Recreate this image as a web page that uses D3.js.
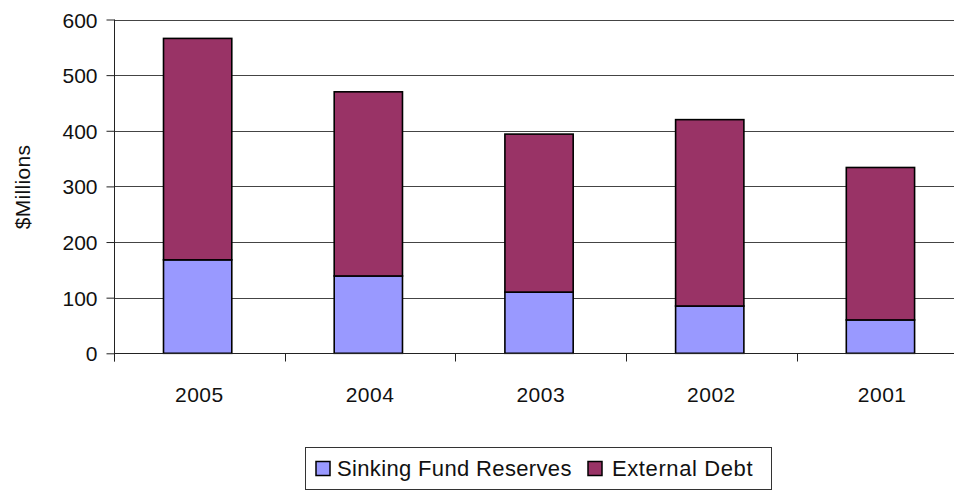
<!DOCTYPE html>
<html>
<head>
<meta charset="utf-8">
<script src="https://cdn.jsdelivr.net/npm/d3@7"></script>
<style>
  html, body { margin: 0; padding: 0; background: #fff; overflow: hidden; }
  svg { display: block; }
  text { font-family: "Liberation Sans", "DejaVu Sans", sans-serif; fill: #111; }
</style>
</head>
<body>
<svg id="chart" width="954" height="491"></svg>
<script>
// Funding data, $ millions
const years = ["2005", "2004", "2003", "2002", "2001"];
const sinkingFund = [168, 139, 110, 85, 60];
const externalDebt = [398, 331, 284, 335, 274];
const yTicks = [0, 100, 200, 300, 400, 500, 600];
const seriesNames = ["Sinking Fund Reserves", "External Debt"];
const seriesColors = ["#9999ff", "#993366"];

const svg = d3.select("#chart");
const plot = { left: 114, right: 967.5, top: 19.5, bottom: 353.3, visibleRight: 954 };
const fontSize = "21px";

const xCat = d3.scaleBand().domain(years).range([plot.left, plot.right]);
const barOffset = 0.29, barWidth = 0.40; // fractions of a category slot
const y = d3.scaleLinear().domain([0, 600]).range([plot.bottom, plot.top]);

// Gridlines
svg.append("g").selectAll("line").data(yTicks.filter(d => d > 0)).join("line")
  .attr("x1", plot.left).attr("x2", plot.visibleRight)
  .attr("y1", d => Math.round(y(d)) + 0.5).attr("y2", d => Math.round(y(d)) + 0.5)
  .attr("stroke", "#444").attr("stroke-width", 1.2);

// Stacked bars
const rows = years.map((yr, i) => ({ year: yr, "Sinking Fund Reserves": sinkingFund[i], "External Debt": externalDebt[i] }));
const stacked = d3.stack().keys(seriesNames)(rows);
svg.append("g").selectAll("g").data(stacked).join("g")
  .attr("fill", (d, i) => seriesColors[i])
  .selectAll("rect").data(d => d).join("rect")
  .attr("x", d => xCat(d.data.year) + xCat.bandwidth() * barOffset)
  .attr("y", d => y(d[1]))
  .attr("width", xCat.bandwidth() * barWidth)
  .attr("height", d => y(d[0]) - y(d[1]))
  .attr("stroke", "#000").attr("stroke-width", 1.6);

// Y axis
const yAxis = d3.axisLeft(y).tickValues(yTicks).tickSize(8).tickPadding(9).tickFormat(d3.format("d"));
const gy = svg.append("g").attr("transform", `translate(${plot.left + 0.5},0)`).call(yAxis);
gy.select(".domain").attr("d", `M0,${plot.top}V${plot.bottom + 8}`).attr("stroke", "#222");
gy.selectAll(".tick line").attr("stroke", "#222");
gy.selectAll("text").attr("font-family", null).style("font-size", fontSize).attr("dy", "0.36em");

// X axis with ticks at category boundaries
const gx = svg.append("g").attr("transform", `translate(0,${Math.round(plot.bottom) + 0.5})`);
gx.append("line").attr("x1", plot.left).attr("x2", plot.visibleRight).attr("stroke", "#222");
gx.selectAll("line.tk").data(years).join("line").attr("class", "tk")
  .attr("x1", d => Math.round(xCat(d)) + 0.5)
  .attr("x2", d => Math.round(xCat(d)) + 0.5)
  .attr("y1", 0).attr("y2", 8).attr("stroke", "#222");
gx.selectAll("text").data(years).join("text")
  .attr("x", d => xCat(d) + xCat.bandwidth() / 2)
  .attr("y", 48).attr("text-anchor", "middle")
  .style("font-size", fontSize).style("letter-spacing", "0.5px").text(d => d);

// Y axis title
svg.append("text").attr("transform", "translate(30,187) rotate(-90)")
  .attr("text-anchor", "middle").style("font-size", fontSize).style("letter-spacing", "0.3px").text("$Millions");

// Legend
const lg = svg.append("g");
lg.append("rect").attr("x", 305.5).attr("y", 447.5).attr("width", 466).attr("height", 42)
  .attr("fill", "#fff").attr("stroke", "#333");
const legendX = [316, 588];
const legendSpacing = ["0.35px", "0.6px"];
seriesNames.forEach((name, i) => {
  lg.append("rect").attr("x", legendX[i]).attr("y", 461.5).attr("width", 14).attr("height", 14)
    .attr("fill", seriesColors[i]).attr("stroke", "#000").attr("stroke-width", 1.5);
  lg.append("text").attr("x", legendX[i] + (i === 0 ? 21 : 24)).attr("y", 476)
    .style("font-size", "22px").style("letter-spacing", legendSpacing[i]).text(name);
});
</script>
</body>
</html>
